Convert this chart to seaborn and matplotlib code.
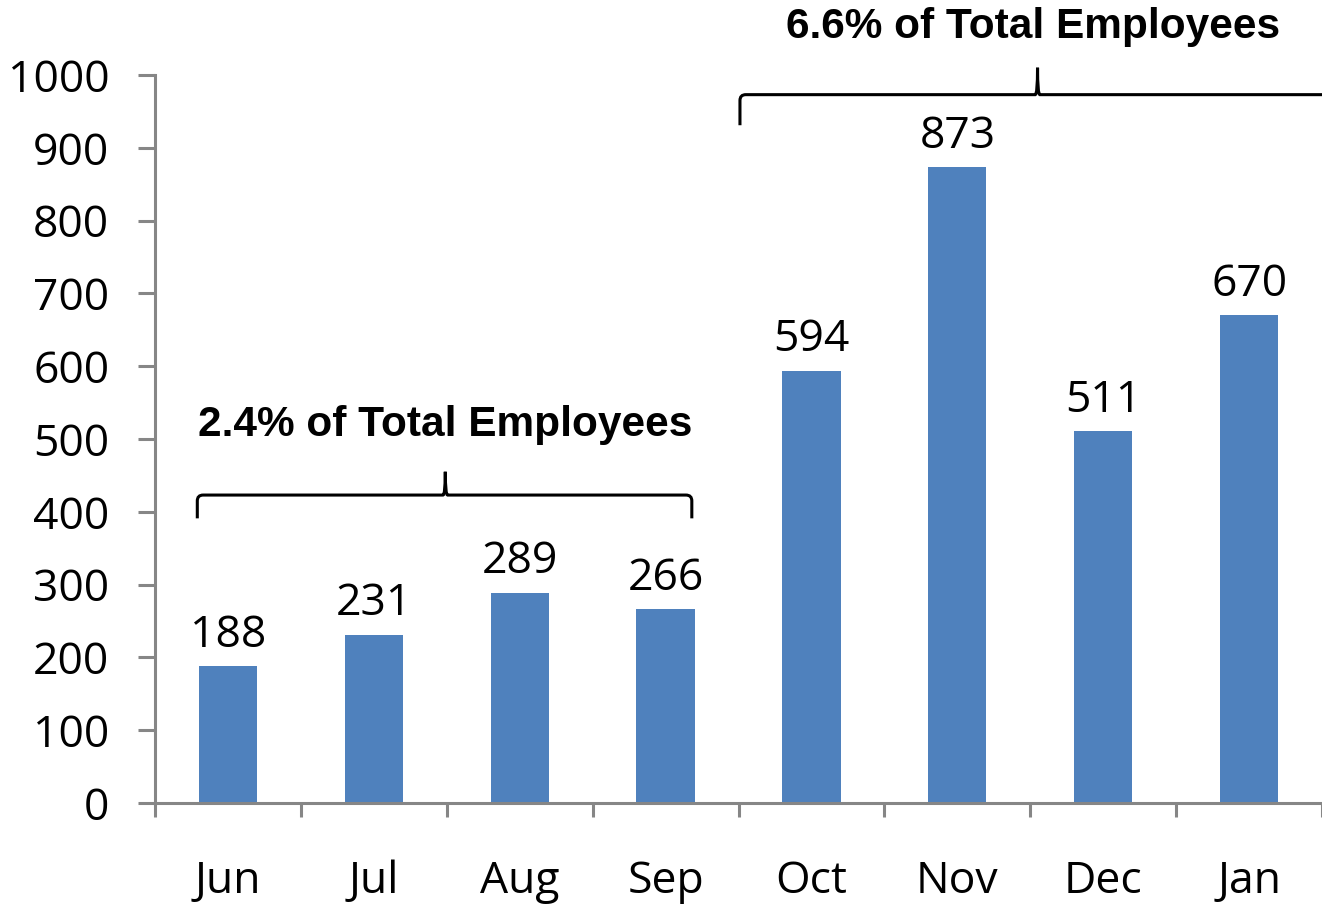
import matplotlib
matplotlib.use("Agg")
import matplotlib.pyplot as plt
import seaborn as sns
import pandas as pd
import numpy as np
from matplotlib.path import Path
from matplotlib.patches import PathPatch

months = ["Jun", "Jul", "Aug", "Sep", "Oct", "Nov", "Dec", "Jan"]
counts = [188, 231, 289, 266, 594, 873, 511, 670]
yticks = [0, 100, 200, 300, 400, 500, 600, 700, 800, 900, 1000]
group_labels = ["2.4% of Total Employees", "6.6% of Total Employees"]

sns.set_theme(style="white")
plt.rcParams['font.family'] = ['Open Sans', 'DejaVu Sans']

df = pd.DataFrame({"month": months, "count": counts})

fig = plt.figure(figsize=(13.22, 9.06), dpi=100)
ax = fig.add_axes([155/1322, 1-803/906, 1-155/1322, (803-75)/906])

sns.barplot(data=df, x="month", y="count", color="#4F81BD", saturation=1,
            width=0.4, ax=ax, edgecolor="none")

ax.set_xlim(-0.5, 7.5)
ax.set_ylim(0, 1000)
ax.set_yticks(yticks)
ax.set_yticklabels([str(v) for v in yticks])
ax.set_xlabel("")
ax.set_ylabel("")

axis_col = "#868686"
for s in ["top", "right"]:
    ax.spines[s].set_visible(False)
for s in ["left", "bottom"]:
    ax.spines[s].set_color(axis_col)
    ax.spines[s].set_linewidth(2.2)

fs = 32
ax.tick_params(axis="y", length=12, width=2.2, color=axis_col, labelsize=fs, pad=21,
               left=True, labelcolor="black")
ax.set_xticks(np.arange(-0.5, 8.0, 1.0), minor=True)
ax.tick_params(axis="x", which="minor", length=10, width=2.2, color=axis_col, bottom=True)
ax.tick_params(axis="x", which="major", length=0, labelsize=fs, pad=41, labelcolor="black")

for i, v in enumerate(counts):
    ax.annotate(str(v), (i, v), xytext=(0, 6), textcoords="offset points",
                ha="center", va="bottom", fontsize=fs, color="black")

def brace(ax, x0, x1, xm, ybase, yend, ytip):
    r = 0.04
    verts = [(x0, yend), (x0, ybase - 8), (x0, ybase), (x0 + r, ybase),
             (xm - r * 0.4, ybase), (xm, ybase), (xm, ytip),
             (xm, ybase), (xm + r * 0.4, ybase),
             (x1 - r, ybase), (x1, ybase), (x1, ybase - 8), (x1, yend)]
    codes = [Path.MOVETO, Path.LINETO, Path.CURVE3, Path.CURVE3,
             Path.LINETO, Path.CURVE3, Path.CURVE3,
             Path.CURVE3, Path.CURVE3,
             Path.LINETO, Path.CURVE3, Path.CURVE3, Path.LINETO]
    p = PathPatch(Path(verts, codes), fill=False, lw=2.2, color="black", clip_on=False)
    ax.add_patch(p)

brace(ax, -0.21, 3.18, 1.49, 423, 391, 455)
brace(ax, 3.51, 7.9, 5.55, 973, 931, 1010)

ax.text(1.49, 519, group_labels[0], ha="center", va="center", fontsize=30.5,
        fontweight="bold", family="Liberation Sans", color="black", clip_on=False)
ax.text(5.52, 1066, group_labels[1], ha="center", va="center", fontsize=30.5,
        fontweight="bold", family="Liberation Sans", color="black", clip_on=False)

fig.savefig("out.png", dpi=100)
